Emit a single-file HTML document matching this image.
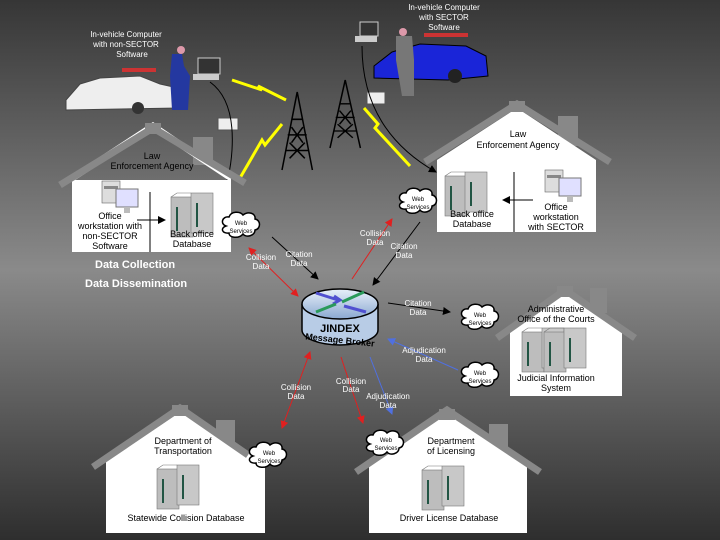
<!DOCTYPE html>
<html><head><meta charset="utf-8"><style>
html,body{margin:0;padding:0;width:720px;height:540px;overflow:hidden}
svg{display:block}
text{font-family:"Liberation Sans",Arial,sans-serif}
.w{fill:#fff;font-size:8px}
.b{fill:#000;font-size:9px}
</style></head><body>
<svg width="720" height="540" viewBox="0 0 720 540" xmlns="http://www.w3.org/2000/svg">
<defs>
<linearGradient id="bg" x1="0" y1="0" x2="0" y2="1">
<stop offset="0" stop-color="#363636"/><stop offset="0.5" stop-color="#8a8a8a"/><stop offset="1" stop-color="#2e2e2e"/>
</linearGradient>
<linearGradient id="cyl" x1="0" y1="0" x2="0" y2="1"><stop offset="0" stop-color="#e8f0fa"/><stop offset="1" stop-color="#8aa8d0"/></linearGradient>
<marker id="ak" markerWidth="8" markerHeight="8" refX="7" refY="4" orient="auto"><path d="M0,0L8,4L0,8z" fill="#000"/></marker>
<marker id="ar" markerWidth="8" markerHeight="8" refX="7" refY="4" orient="auto"><path d="M0,0L8,4L0,8z" fill="#e02020"/></marker>
<marker id="arS" markerWidth="8" markerHeight="8" refX="1" refY="4" orient="auto"><path d="M8,0L0,4L8,8z" fill="#e02020"/></marker>
<marker id="ab" markerWidth="8" markerHeight="8" refX="7" refY="4" orient="auto"><path d="M0,0L8,4L0,8z" fill="#5070e0"/></marker>
<g id="srv"><rect x="0" y="4" width="22" height="40" fill="#bdbdbd" stroke="#777" stroke-width="0.6"/><rect x="20" y="0" width="22" height="40" fill="#c8c8c8" stroke="#777" stroke-width="0.6"/><path d="M0,4L6,0L20,0" fill="none" stroke="#777" stroke-width="0.6"/><rect x="5" y="14" width="2" height="24" fill="#254"/><rect x="25" y="10" width="2" height="24" fill="#254"/></g>
<g id="pc"><rect x="0" y="0" width="18" height="22" fill="#ddd" stroke="#666" stroke-width="0.6"/><rect x="2" y="5" width="14" height="3" fill="#888"/><rect x="14" y="8" width="22" height="18" fill="#e0e0ff" stroke="#777" stroke-width="1"/><rect x="22" y="26" width="6" height="6" fill="#bbb"/></g>
<g id="cloud"><path d="M6,14 C0,12 2,4 9,5 C11,-1 20,-1 23,3 C28,-1 36,1 35,7 C41,8 41,17 35,18 C35,24 26,26 23,22 C19,27 9,26 9,21 C2,22 0,16 6,14z" fill="#fff" stroke="#000" stroke-width="1.5"/></g>
<g id="tower"><path d="M0,40L8,0L16,40M2,30L14,30M3,22L13,22M5,14L11,14M4,26L12,34M12,26L4,34M5,18L11,26M11,18L5,26" fill="none" stroke="#000" stroke-width="0.8"/></g>
</defs>
<rect width="720" height="540" fill="url(#bg)"/>

<text class="w" x="126" y="37" text-anchor="middle">In-vehicle Computer</text>
<text class="w" x="126" y="47" text-anchor="middle">with non-SECTOR</text>
<text class="w" x="132" y="57" text-anchor="middle">Software</text>
<path d="M66,100 L80,84 L100,78 L140,76 L160,84 L178,88 L180,108 L66,110z" fill="#eee" stroke="#444"/>
<rect x="122" y="68" width="34" height="4" fill="#c33"/>
<circle cx="138" cy="108" r="6" fill="#333"/>
<path d="M172,54 L182,54 L184,66 L190,76 L188,110 L172,110 L170,76z" fill="#2438a0"/>
<circle cx="181" cy="50" r="4" fill="#d9a"/>
<rect x="198" y="58" width="22" height="16" fill="#333" stroke="#ccc"/>
<rect x="193" y="74" width="26" height="6" fill="#ccc"/>
<path d="M232,80 L262,90 L258,86 L286,100" stroke="#ff0" stroke-width="3" fill="none"/>
<rect x="218" y="118" width="20" height="12" fill="#eee" stroke="#555"/>
<path d="M210,82 Q235,100 232,150 Q230,180 222,190" fill="none" stroke="#000" marker-end="url(#ak)"/>
<path d="M282,124 L265,145 L262,140 L240,178" stroke="#ff0" stroke-width="3" fill="none"/>
<use href="#tower" transform="translate(282,92) scale(1.9,1.95)"/>
<use href="#tower" transform="translate(330,80) scale(1.9,1.7)"/>

<text class="w" x="444" y="10" text-anchor="middle">In-vehicle Computer</text>
<text class="w" x="444" y="20" text-anchor="middle">with SECTOR</text>
<text class="w" x="444" y="30" text-anchor="middle">Software</text>
<rect x="360" y="22" width="18" height="14" fill="#333" stroke="#ccc"/>
<rect x="355" y="36" width="22" height="6" fill="#ccc"/>
<path d="M374,66 L392,52 L420,44 L466,46 L486,56 L488,76 L448,80 L374,78z" fill="#1a25d8" stroke="#000"/>
<rect x="424" y="33" width="44" height="4" fill="#c33"/>
<circle cx="455" cy="76" r="7" fill="#222"/>
<path d="M396,36 L412,36 L414,60 L414,96 L402,96 L396,60z" fill="#777"/>
<circle cx="403" cy="32" r="4" fill="#d9a"/>
<rect x="367" y="92" width="18" height="12" fill="#eee" stroke="#555"/>
<path d="M364,108 L378,124 L375,128 L410,166" stroke="#ff0" stroke-width="3" fill="none"/>
<path d="M362,46 Q362,130 436,172" fill="none" stroke="#000" marker-end="url(#ak)"/>

<rect x="72" y="180" width="159" height="72" fill="#fff"/>
<rect x="193" y="137" width="20" height="28" fill="#888"/>
<polygon points="72,182 153,130 231,182 231,175 153,122 72,175" fill="#fff"/>
<path d="M60,185 L153,128 L245,183" fill="none" stroke="#888" stroke-width="7"/>
<rect x="145" y="123" width="16" height="11" fill="#888"/>
<text class="b" x="152" y="159" text-anchor="middle">Law</text>
<text class="b" x="152" y="169" text-anchor="middle">Enforcement Agency</text>
<line x1="150" y1="192" x2="150" y2="252" stroke="#000"/>
<use href="#pc" x="102" y="181"/>
<use href="#srv" x="171" y="193"/>
<line x1="137" y1="220" x2="165" y2="220" stroke="#000" marker-end="url(#ak)"/>
<text class="b" x="110" y="219" text-anchor="middle">Office</text>
<text class="b" x="110" y="229" text-anchor="middle">workstation with</text>
<text class="b" x="110" y="239" text-anchor="middle">non-SECTOR</text>
<text class="b" x="110" y="249" text-anchor="middle">Software</text>
<text class="b" x="192" y="237" text-anchor="middle">Back office</text>
<text class="b" x="192" y="247" text-anchor="middle">Database</text>
<use href="#cloud" x="220" y="212"/>
<text x="241" y="225" font-size="6" text-anchor="middle">Web</text>
<text x="241" y="233" font-size="6" text-anchor="middle">Services</text>
<text x="95" y="268" fill="#fff" font-size="11" font-weight="bold">Data Collection</text>
<text x="85" y="287" fill="#fff" font-size="11" font-weight="bold">Data Dissemination</text>

<rect x="558" y="116" width="20" height="30" fill="#888"/>
<polygon points="437,160 517,108 596,160 596,232 437,232" fill="#fff"/>
<path d="M425,162 L517,104 L610,162" fill="none" stroke="#888" stroke-width="7"/>
<rect x="509" y="101" width="16" height="11" fill="#888"/>
<text class="b" x="518" y="137" text-anchor="middle">Law</text>
<text class="b" x="518" y="148" text-anchor="middle">Enforcement Agency</text>
<line x1="514" y1="172" x2="514" y2="232" stroke="#000"/>
<use href="#srv" x="445" y="172"/>
<use href="#pc" x="545" y="170"/>
<line x1="533" y1="200" x2="503" y2="200" stroke="#000" marker-end="url(#ak)"/>
<text class="b" x="472" y="217" text-anchor="middle">Back office</text>
<text class="b" x="472" y="227" text-anchor="middle">Database</text>
<text class="b" x="556" y="210" text-anchor="middle">Office</text>
<text class="b" x="556" y="220" text-anchor="middle">workstation</text>
<text class="b" x="556" y="230" text-anchor="middle">with SECTOR</text>
<use href="#cloud" x="397" y="188"/>
<text x="418" y="201" font-size="6" text-anchor="middle">Web</text>
<text x="418" y="209" font-size="6" text-anchor="middle">Services</text>

<rect x="590" y="288" width="17" height="25" fill="#888"/>
<polygon points="510,330 565,292 622,330 622,396 510,396" fill="#fff"/>
<path d="M497,338 L565,290 L635,338" fill="none" stroke="#888" stroke-width="7"/>
<rect x="557" y="286" width="16" height="11" fill="#888"/>
<text class="b" x="556" y="312" text-anchor="middle">Administrative</text>
<text class="b" x="556" y="322" text-anchor="middle">Office of the Courts</text>
<use href="#srv" x="522" y="328"/>
<use href="#srv" x="544" y="328" />
<text class="b" x="556" y="381" text-anchor="middle">Judicial Information</text>
<text class="b" x="556" y="391" text-anchor="middle">System</text>
<use href="#cloud" x="459" y="304"/>
<text x="480" y="317" font-size="6" text-anchor="middle">Web</text>
<text x="480" y="325" font-size="6" text-anchor="middle">Services</text>
<use href="#cloud" x="459" y="362"/>
<text x="480" y="375" font-size="6" text-anchor="middle">Web</text>
<text x="480" y="383" font-size="6" text-anchor="middle">Services</text>

<rect x="216" y="420" width="19" height="30" fill="#888"/>
<polygon points="106,462 180,412 265,462 265,533 106,533" fill="#fff"/>
<path d="M93,467 L180,408 L248,455" fill="none" stroke="#888" stroke-width="7"/>
<rect x="172" y="405" width="16" height="11" fill="#888"/>
<text class="b" x="183" y="444" text-anchor="middle">Department of</text>
<text class="b" x="183" y="454" text-anchor="middle">Transportation</text>
<use href="#srv" x="157" y="465"/>
<text class="b" x="186" y="521" text-anchor="middle">Statewide Collision Database</text>
<use href="#cloud" x="247" y="442"/>
<text x="269" y="455" font-size="6" text-anchor="middle">Web</text>
<text x="269" y="463" font-size="6" text-anchor="middle">Services</text>

<rect x="489" y="424" width="19" height="30" fill="#888"/>
<polygon points="369,466 447,414 527,466 527,533 369,533" fill="#fff"/>
<path d="M356,472 L447,410 L540,472" fill="none" stroke="#888" stroke-width="7"/>
<rect x="439" y="409" width="16" height="11" fill="#888"/>
<text class="b" x="451" y="444" text-anchor="middle">Department</text>
<text class="b" x="451" y="454" text-anchor="middle">of Licensing</text>
<use href="#srv" x="422" y="466"/>
<text class="b" x="449" y="521" text-anchor="middle">Driver License Database</text>
<use href="#cloud" x="364" y="430"/>
<text x="386" y="442" font-size="6" text-anchor="middle">Web</text>
<text x="386" y="450" font-size="6" text-anchor="middle">Services</text>

<path d="M302,304 L302,330 A38,15 0 0 0 378,330 L378,304" fill="#b8cce6" stroke="#000" stroke-width="1.5"/>
<ellipse cx="340" cy="304" rx="38" ry="15" fill="url(#cyl)" stroke="#000" stroke-width="1.5"/>
<path d="M316,293 L338,300 M334,296 L340,300 L333,304" stroke="#5050d0" stroke-width="3" fill="none"/>
<path d="M342,302 L364,292" stroke="#2a9a5a" stroke-width="3"/>
<path d="M316,312 L336,304" stroke="#2a9a5a" stroke-width="3"/>
<path d="M344,306 L366,312" stroke="#5050d0" stroke-width="3"/>
<text x="340" y="332" font-size="11" font-weight="bold" text-anchor="middle" fill="#000">JINDEX</text>
<text x="340" y="343" font-size="9" font-weight="bold" text-anchor="middle" fill="#000" transform="rotate(6 340 340)">Message Broker</text>

<line x1="249" y1="248" x2="298" y2="296" stroke="#e02020" marker-end="url(#ar)" marker-start="url(#arS)"/>
<text class="w" x="261" y="260" text-anchor="middle">Collision</text><text class="w" x="261" y="269" text-anchor="middle">Data</text>
<line x1="272" y1="237" x2="318" y2="279" stroke="#000" marker-end="url(#ak)"/>
<text class="w" x="299" y="257" text-anchor="middle">Citation</text><text class="w" x="299" y="266" text-anchor="middle">Data</text>
<line x1="392" y1="219" x2="352" y2="279" stroke="#e02020" marker-start="url(#arS)"/>
<text class="w" x="375" y="236" text-anchor="middle">Collision</text><text class="w" x="375" y="245" text-anchor="middle">Data</text>
<line x1="420" y1="222" x2="373" y2="285" stroke="#000" marker-end="url(#ak)"/>
<text class="w" x="404" y="249" text-anchor="middle">Citation</text><text class="w" x="404" y="258" text-anchor="middle">Data</text>
<line x1="388" y1="303" x2="450" y2="312" stroke="#000" marker-end="url(#ak)"/>
<text class="w" x="418" y="306" text-anchor="middle">Citation</text><text class="w" x="418" y="315" text-anchor="middle">Data</text>
<line x1="458" y1="370" x2="388" y2="339" stroke="#5070e0" marker-end="url(#ab)"/>
<text class="w" x="424" y="353" text-anchor="middle">Adjudication</text><text class="w" x="424" y="362" text-anchor="middle">Data</text>
<line x1="282" y1="428" x2="310" y2="352" stroke="#e02020" marker-end="url(#ar)" marker-start="url(#arS)"/>
<text class="w" x="296" y="390" text-anchor="middle">Collision</text><text class="w" x="296" y="399" text-anchor="middle">Data</text>
<line x1="341" y1="357" x2="363" y2="423" stroke="#e02020" marker-end="url(#ar)"/>
<text class="w" x="351" y="384" text-anchor="middle">Collision</text><text class="w" x="351" y="392" text-anchor="middle">Data</text>
<line x1="370" y1="357" x2="392" y2="414" stroke="#5070e0" marker-end="url(#ab)"/>
<text class="w" x="388" y="399" text-anchor="middle">Adjudication</text><text class="w" x="388" y="408" text-anchor="middle">Data</text>
</svg>
</body></html>
